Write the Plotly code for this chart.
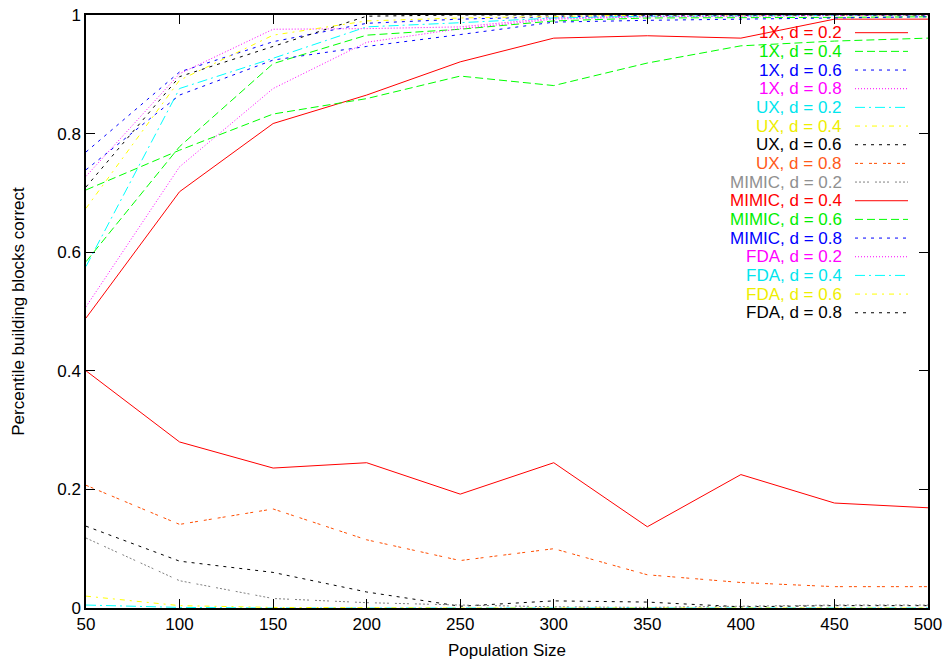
import plotly.graph_objects as go

# Population sizes on the x axis
pop_sizes = [50, 100, 150, 200, 250, 300, 350, 400, 450, 500]

# Fraction of building blocks found correctly, one list per (algorithm, d)
x1_d02 = [0.489, 0.702, 0.817, 0.865, 0.921, 0.961, 0.965, 0.961, 0.993, 0.993]
x1_d04 = [0.705, 0.772, 0.833, 0.859, 0.897, 0.881, 0.919, 0.948, 0.956, 0.961]
x1_d06 = [0.769, 0.904, 0.955, 0.986, 0.993, 0.997, 0.999, 1.000, 1.000, 1.000]
x1_d08 = [0.728, 0.901, 0.976, 0.977, 0.980, 0.995, 0.998, 0.999, 1.000, 1.000]
ux_d02 = [0.576, 0.876, 0.927, 0.980, 0.987, 0.995, 0.998, 0.999, 1.000, 1.000]
ux_d04 = [0.674, 0.890, 0.966, 0.990, 0.995, 0.998, 1.000, 1.000, 1.000, 1.000]
ux_d06 = [0.138, 0.079, 0.060, 0.027, 0.003, 0.012, 0.010, 0.002, 0.004, 0.004]
ux_d08 = [0.207, 0.141, 0.167, 0.115, 0.080, 0.100, 0.056, 0.043, 0.036, 0.036]
mimic_d02 = [0.118, 0.046, 0.016, 0.009, 0.005, 0.002, 0.001, 0.003, 0.005, 0.005]
mimic_d04 = [0.400, 0.280, 0.236, 0.245, 0.192, 0.245, 0.137, 0.225, 0.177, 0.169]
mimic_d06 = [0.584, 0.778, 0.918, 0.966, 0.976, 0.990, 0.995, 0.995, 0.996, 0.997]
mimic_d08 = [0.739, 0.865, 0.924, 0.947, 0.967, 0.988, 0.991, 0.993, 0.996, 0.997]
fda_d02 = [0.508, 0.744, 0.876, 0.954, 0.977, 0.993, 0.997, 0.998, 0.999, 1.000]
fda_d04 = [0.005, 0.001, 0.000, 0.000, 0.000, 0.000, 0.000, 0.000, 0.000, 0.000]
fda_d06 = [0.020, 0.004, 0.001, 0.000, 0.000, 0.000, 0.000, 0.000, 0.000, 0.000]
fda_d08 = [0.710, 0.896, 0.947, 0.998, 1.000, 1.000, 1.000, 1.000, 1.000, 1.000]

series_names = [
    "1X, d = 0.2", "1X, d = 0.4", "1X, d = 0.6", "1X, d = 0.8",
    "UX, d = 0.2", "UX, d = 0.4", "UX, d = 0.6", "UX, d = 0.8",
    "MIMIC, d = 0.2", "MIMIC, d = 0.4", "MIMIC, d = 0.6", "MIMIC, d = 0.8",
    "FDA, d = 0.2", "FDA, d = 0.4", "FDA, d = 0.6", "FDA, d = 0.8",
]
series_values = [
    x1_d02, x1_d04, x1_d06, x1_d08,
    ux_d02, ux_d04, ux_d06, ux_d08,
    mimic_d02, mimic_d04, mimic_d06, mimic_d08,
    fda_d02, fda_d04, fda_d06, fda_d08,
]

# gnuplot-style colour / dash cycle (9 line types, repeating)
line_colors = ["#ff0000", "#00ff00", "#0000ff", "#ff00ff", "#00ffff",
               "#ffff00", "#000000", "#ff4d00", "#808080"]
text_colors = ["#ff0000", "#00ee00", "#0000ff", "#ff00ff", "#00e5ee",
               "#eeee00", "#000000", "#ff5a1a", "#909090"]
line_dashes = ["solid", "8px,4px", "3px,5px", "1px,2px", "10px,4px,2px,4px",
               "5px,5px,2px,5px", "3px,5px", "3px,2px,3px,6px",
               "2px,2px,2px,2px,2px,2px,2px,6px"]

fig = go.Figure()
for i, (name, vals) in enumerate(zip(series_names, series_values)):
    k = i % 9
    fig.add_trace(go.Scatter(
        x=pop_sizes, y=vals, mode="lines", name=name, showlegend=False,
        line=dict(color=line_colors[k], width=1, dash=line_dashes[k]),
    ))

# Key in the upper right: right-aligned coloured labels, sample line after
PLOT_L, PLOT_R, PLOT_T, PLOT_B = 86, 928, 15, 608
W, H = 948, 668
pw, ph = PLOT_R - PLOT_L, PLOT_B - PLOT_T


def px_to_paper_x(px):
    return (px - PLOT_L) / pw


def px_to_paper_y(py):
    return (PLOT_B - py) / ph


FONT = "Liberation Sans, Arial, sans-serif"
shapes = []
annotations = []
row0, row_gap = 32.7, 18.67
for i, name in enumerate(series_names):
    k = i % 9
    yy = px_to_paper_y(row0 + i * row_gap)
    annotations.append(dict(
        x=px_to_paper_x(844), y=yy, xref="paper", yref="paper",
        text=name, showarrow=False, xanchor="right", yanchor="middle",
        font=dict(family=FONT, size=17, color=text_colors[k]),
    ))
    shapes.append(dict(
        type="line", xref="paper", yref="paper",
        x0=px_to_paper_x(855), x1=px_to_paper_x(908), y0=yy, y1=yy,
        line=dict(color=line_colors[k], width=1, dash=line_dashes[k]),
    ))

axis_font = dict(family=FONT, size=17, color="#000000")

fig.update_layout(
    width=W, height=H,
    margin=dict(l=PLOT_L, r=W - PLOT_R, t=PLOT_T, b=H - PLOT_B, autoexpand=False),
    paper_bgcolor="white", plot_bgcolor="white",
    showlegend=False,
    shapes=shapes, annotations=annotations,
    font=axis_font,
    xaxis=dict(
        range=[50, 500], tickvals=pop_sizes, ticktext=[str(v) for v in pop_sizes],
        ticks="inside", ticklen=9, tickwidth=1.2, tickcolor="black",
        showline=True, linecolor="black", linewidth=1.5, mirror="allticks",
        showgrid=False, zeroline=False, automargin=False,
        title=dict(text="Population Size", font=axis_font, standoff=11),
        tickfont=axis_font,
    ),
    yaxis=dict(
        range=[0, 1], tickvals=[0, 0.2, 0.4, 0.6, 0.8, 1],
        ticktext=["0", "0.2", "0.4", "0.6", "0.8", "1"],
        ticks="inside", ticklen=9, tickwidth=1.2, tickcolor="black",
        showline=True, linecolor="black", linewidth=1.5, mirror="allticks",
        showgrid=False, zeroline=False, automargin=False,
        title=dict(text="Percentile building blocks correct", font=axis_font, standoff=28),
        tickfont=axis_font,
    ),
)

fig.write_html("out.html")
